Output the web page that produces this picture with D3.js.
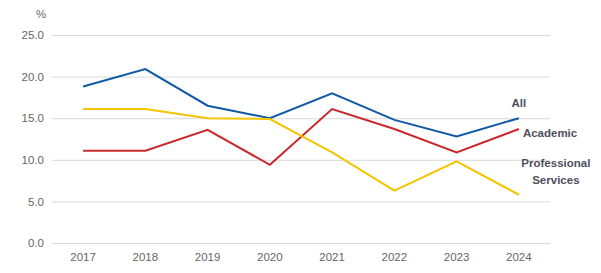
<!DOCTYPE html>
<html>
<head>
<meta charset="utf-8">
<script src="https://cdn.jsdelivr.net/npm/d3@7"></script>
<style>
  body { margin: 0; background: #fff; }
  svg { font-family: Arial, "Liberation Sans", sans-serif; }
  .tick text { fill: #666; font-size: 11.5px; }
  .grid line { stroke: #d9d9d9; stroke-width: 1; }
  .lbl { font-weight: bold; font-size: 11.5px; fill: #4f4f5c; }
</style>
</head>
<body>
<div id="chart"></div>
<script>
// Data
const years = ['2017', '2018', '2019', '2020', '2021', '2022', '2023', '2024'];
const allStaff = [18.8, 20.9, 16.5, 15.0, 18.0, 14.8, 12.8, 15.0];
const academic = [11.1, 11.1, 13.6, 9.4, 16.1, 13.7, 10.9, 13.7];
const professional = [16.1, 16.1, 15.0, 14.9, 10.9, 6.3, 9.8, 5.8];
const yTicks = [0, 5, 10, 15, 20, 25];

const width = 601, height = 273;
const margin = { top: 35, right: 51, bottom: 30, left: 52 };

const svg = d3.select('#chart').append('svg')
    .attr('width', width)
    .attr('height', height);

const x = d3.scaleBand()
    .domain(years)
    .range([margin.left, width - margin.right]);

const y = d3.scaleLinear()
    .domain([0, 25])
    .range([height - margin.bottom, margin.top]);

// Gridlines + y labels
const yAxis = svg.append('g')
    .attr('class', 'grid')
    .attr('transform', `translate(${margin.left},0)`)
    .call(d3.axisLeft(y)
        .tickValues(yTicks)
        .tickSize(-(width - margin.left - margin.right))
        .tickPadding(8)
        .tickFormat(d3.format('.1f')));
yAxis.select('.domain').remove();

// x labels
const xAxis = svg.append('g')
    .attr('transform', `translate(0,${height - margin.bottom})`)
    .call(d3.axisBottom(x).tickSize(0).tickPadding(10));
xAxis.select('.domain').remove();

svg.append('text')
    .attr('x', 41)
    .attr('y', 18)
    .attr('text-anchor', 'middle')
    .style('fill', '#666')
    .style('font-size', '11.5px')
    .text('%');

const series = [
    { name: 'All', values: allStaff, color: '#1059a6' },
    { name: 'Academic', values: academic, color: '#c9282d' },
    { name: 'Professional Services', values: professional, color: '#f5c400' }
];

const line = d3.line()
    .x((d, i) => x(years[i]) + x.bandwidth() / 2)
    .y(d => y(d));

svg.selectAll('.series')
    .data(series)
    .enter()
    .append('path')
    .attr('class', 'series')
    .attr('fill', 'none')
    .attr('stroke', d => d.color)
    .attr('stroke-width', 2)
    .attr('d', d => line(d.values));

// End labels
const lastX = x(years[years.length - 1]) + x.bandwidth() / 2;
svg.append('text').attr('class', 'lbl')
    .attr('x', lastX).attr('y', y(allStaff[7]) - 11)
    .attr('text-anchor', 'middle')
    .text('All');
svg.append('text').attr('class', 'lbl')
    .attr('x', lastX + 4).attr('y', y(academic[7]) + 8)
    .text('Academic');
const ps = svg.append('text').attr('class', 'lbl')
    .attr('text-anchor', 'middle');
ps.append('tspan').attr('x', lastX + 37).attr('y', 167).text('Professional');
ps.append('tspan').attr('x', lastX + 37).attr('y', 184).text('Services');
</script>
</body>
</html>
